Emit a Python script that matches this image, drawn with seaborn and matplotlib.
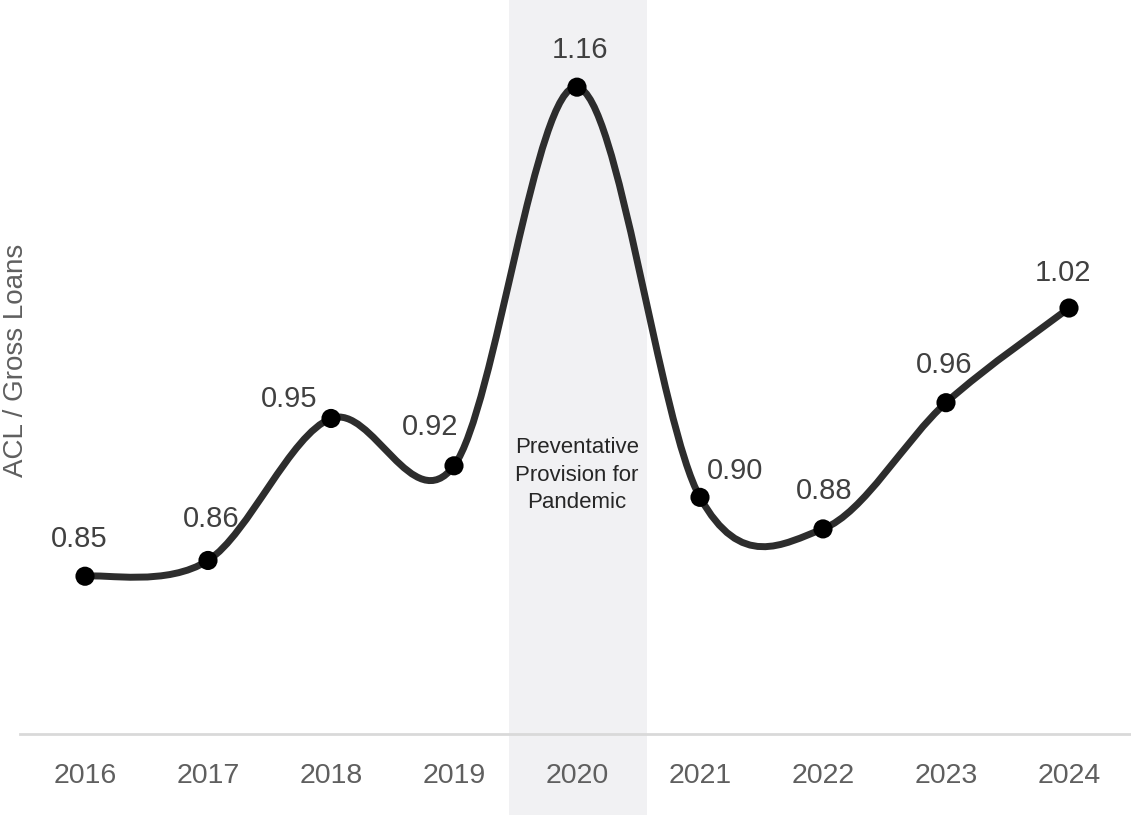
import numpy as np
import pandas as pd
import seaborn as sns
import matplotlib.pyplot as plt
from matplotlib.path import Path
from matplotlib.patches import PathPatch

# data
years = [2016, 2017, 2018, 2019, 2020, 2021, 2022, 2023, 2024]
acl_ratio = [0.85, 0.86, 0.95, 0.92, 1.16, 0.90, 0.88, 0.96, 1.02]
value_labels = ["0.85", "0.86", "0.95", "0.92", "1.16", "0.90", "0.88", "0.96", "1.02"]
band_year = 2020
band_text = "Preventative\nProvision for\nPandemic"

# label offsets in points (styling only)
label_dx = [-4, 2, -30, -17, 2, 25, 1, -1, -4]
label_dy = [27, 30, 14, 28, 27, 19, 27, 27, 25]

df = pd.DataFrame({"year": years, "ratio": acl_ratio})

sns.set_style("white")
plt.rcParams["font.family"] = ["Liberation Sans", "DejaVu Sans"]

fig = plt.figure(figsize=(11.31, 8.15), dpi=100)
ax = fig.add_axes([20 / 1131, 81 / 815, 1111 / 1131, 734 / 815])

# shaded band around 2020, running past the axis down to the figure edge
ax.axvspan(band_year - 0.555, band_year + 0.57, ymin=-81 / 734, ymax=1,
           color="#f1f1f3", zorder=0, clip_on=False, lw=0)
ax.text(band_year, 0.85 + (576 - 475) / 1577, band_text, ha="center", va="center",
        fontsize=16, color="#262626", linespacing=1.4)

# smoothed line (Catmull-Rom style bezier, like a spreadsheet "smoothed line")
pts = df[["year", "ratio"]].to_numpy(dtype=float)
verts = [pts[0]]
codes = [Path.MOVETO]
n = len(pts)
for i in range(n - 1):
    p_prev = pts[i - 1] if i > 0 else pts[i]
    p_next2 = pts[i + 2] if i + 2 < n else pts[i + 1]
    c1 = pts[i] + (pts[i + 1] - p_prev) / 6
    c2 = pts[i + 1] - (p_next2 - pts[i]) / 6
    verts += [c1, c2, pts[i + 1]]
    codes += [Path.CURVE4] * 3
ax.add_patch(PathPatch(Path(verts, codes), facecolor="none",
                       edgecolor="#2d2d2d", lw=5, capstyle="round", zorder=2))

sns.scatterplot(data=df, x="year", y="ratio", ax=ax, color="black",
                s=190, edgecolor="none", zorder=3, legend=False)

for x, y, lab, dx, dy in zip(years, acl_ratio, value_labels, label_dx, label_dy):
    ax.annotate(lab, (x, y), xytext=(dx, dy), textcoords="offset points",
                ha="center", va="center", fontsize=21, color="#404040")

ax.set_xlim(2016 - 65 / 123, 2016 - 65 / 123 + 1111 / 123)
ax.set_ylim(0.75, 0.85 + 576 / 1577)
ax.set_xticks(years)
ax.set_xticklabels([str(y) for y in years])
ax.set_yticks([])
ax.tick_params(axis="x", length=0, pad=21, labelsize=20.5, labelcolor="#5f5f5f")
ax.set_xlabel("")
ax.set_ylabel("")
fig.text(16 / 1131, 1 - 360 / 815, "ACL / Gross Loans", rotation=90,
         ha="center", va="center", fontsize=20, color="#5f5f5f")

sns.despine(ax=ax, left=True, top=True, right=True)
ax.spines["bottom"].set_color("#d9d9d9")
ax.spines["bottom"].set_linewidth(2)
ax.spines["bottom"].set_zorder(1)
ax.patch.set_alpha(0)

fig.savefig("out.png", dpi=100)
